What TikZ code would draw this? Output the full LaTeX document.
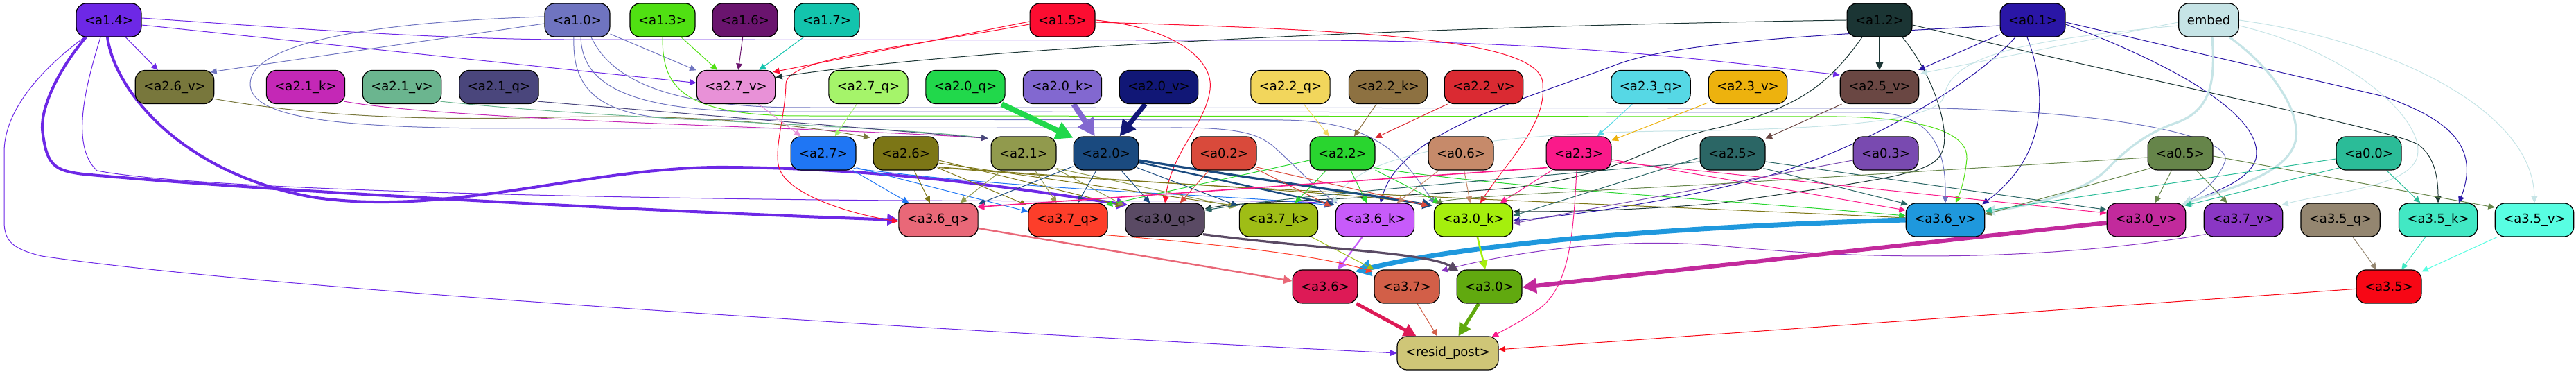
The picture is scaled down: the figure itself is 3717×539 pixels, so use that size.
\documentclass[tikz,border=0pt]{standalone}
\usepackage{fontspec}
\setmainfont{DejaVu Sans}
\usetikzlibrary{arrows.meta,calc}
\pgfdeclarelayer{bg}
\pgfsetlayers{bg,main}
\definecolor{c14}{HTML}{6D28E6}
\definecolor{c10}{HTML}{6F74C0}
\definecolor{c13}{HTML}{50E012}
\definecolor{c16}{HTML}{6A146E}
\definecolor{c17}{HTML}{13C4AD}
\definecolor{c15}{HTML}{FC0D31}
\definecolor{c12}{HTML}{1B3534}
\definecolor{c01}{HTML}{2A16A6}
\definecolor{cemb}{HTML}{C6E4E6}
\definecolor{c26v}{HTML}{78773C}
\definecolor{c21k}{HTML}{C428B6}
\definecolor{c21v}{HTML}{6BB58F}
\definecolor{c21q}{HTML}{4A467C}
\definecolor{c27v}{HTML}{E891D7}
\definecolor{c27q}{HTML}{A5F46A}
\definecolor{c20q}{HTML}{21D84B}
\definecolor{c20k}{HTML}{8268D0}
\definecolor{c20v}{HTML}{111776}
\definecolor{c22q}{HTML}{F2D65C}
\definecolor{c22k}{HTML}{8D7141}
\definecolor{c22v}{HTML}{DA2A32}
\definecolor{c23q}{HTML}{56D8E5}
\definecolor{c23v}{HTML}{EDB20E}
\definecolor{c25v}{HTML}{6A4743}
\definecolor{c27}{HTML}{1F76F4}
\definecolor{c26}{HTML}{7C7616}
\definecolor{c21}{HTML}{919A4D}
\definecolor{c20}{HTML}{1A4A7F}
\definecolor{c02}{HTML}{D94A3B}
\definecolor{c22}{HTML}{29D52F}
\definecolor{c06}{HTML}{C68A6A}
\definecolor{c23}{HTML}{FA1A8A}
\definecolor{c25}{HTML}{2B6665}
\definecolor{c03}{HTML}{794AB0}
\definecolor{c05}{HTML}{66854A}
\definecolor{c00}{HTML}{2BBC98}
\definecolor{c36q}{HTML}{E96878}
\definecolor{c37q}{HTML}{FD3E2A}
\definecolor{c30q}{HTML}{5A4A64}
\definecolor{c37k}{HTML}{9FBD16}
\definecolor{c36k}{HTML}{C75BFA}
\definecolor{c30k}{HTML}{A5EF0D}
\definecolor{c36v}{HTML}{1F98DD}
\definecolor{c30v}{HTML}{C22A9C}
\definecolor{c37v}{HTML}{8A37C4}
\definecolor{c35q}{HTML}{948670}
\definecolor{c35k}{HTML}{42E8C4}
\definecolor{c35v}{HTML}{58FEE2}
\definecolor{c36}{HTML}{DD1A56}
\definecolor{c37}{HTML}{D25F48}
\definecolor{c30}{HTML}{61A90F}
\definecolor{c35}{HTML}{F70715}
\definecolor{cres}{HTML}{CFC677}
\tikzset{
  nd/.style={draw=black, line width=0.6pt, rounded corners=7pt, minimum height=24pt,
    inner xsep=6pt, inner ysep=0pt, text=black, font=\fontsize{9}{10}\selectfont},
  ed/.style={line width=0.5pt, -{Triangle[length=3.6pt 2.2,width=3.2pt 2.4]}},
}
\begin{document}
\begin{tikzpicture}[x=0.5pt,y=0.5pt]
\useasboundingbox (0,0) rectangle (3717,539);
% row 1
\node[nd,fill=c14] (a14) at (157,510) {<a1.4>};
\node[nd,fill=c10] (a10) at (833,510) {<a1.0>};
\node[nd,fill=c13] (a13) at (956,510) {<a1.3>};
\node[nd,fill=c16] (a16) at (1075,510) {<a1.6>};
\node[nd,fill=c17] (a17) at (1193,510) {<a1.7>};
\node[nd,fill=c15] (a15) at (1533,510) {<a1.5>};
\node[nd,fill=c12] (a12) at (2712,510) {<a1.2>};
\node[nd,fill=c01] (a01) at (2933,510) {<a0.1>};
\node[nd,fill=cemb] (embed) at (3187,510) {embed};
% row 2
\node[nd,fill=c26v] (a26v) at (252,413.5) {<a2.6\_v>};
\node[nd,fill=c21k] (a21k) at (441,413.5) {<a2.1\_k>};
\node[nd,fill=c21v] (a21v) at (580,413.5) {<a2.1\_v>};
\node[nd,fill=c21q] (a21q) at (720,413.5) {<a2.1\_q>};
\node[nd,fill=c27v] (a27v) at (1062,413.5) {<a2.7\_v>};
\node[nd,fill=c27q] (a27q) at (1253,413.5) {<a2.7\_q>};
\node[nd,fill=c20q] (a20q) at (1393,413.5) {<a2.0\_q>};
\node[nd,fill=c20k] (a20k) at (1533,413.5) {<a2.0\_k>};
\node[nd,fill=c20v] (a20v) at (1672,413.5) {<a2.0\_v>};
\node[nd,fill=c22q] (a22q) at (1862,413.5) {<a2.2\_q>};
\node[nd,fill=c22k] (a22k) at (2003,413.5) {<a2.2\_k>};
\node[nd,fill=c22v] (a22v) at (2141,413.5) {<a2.2\_v>};
\node[nd,fill=c23q] (a23q) at (2382,413.5) {<a2.3\_q>};
\node[nd,fill=c23v] (a23v) at (2522,413.5) {<a2.3\_v>};
\node[nd,fill=c25v] (a25v) at (2712,413.5) {<a2.5\_v>};
% row 3
\node[nd,fill=c27] (a27) at (1188,318) {<a2.7>};
\node[nd,fill=c26] (a26) at (1307,318) {<a2.6>};
\node[nd,fill=c21] (a21) at (1477,318) {<a2.1>};
\node[nd,fill=c20] (a20) at (1596,318) {<a2.0>};
\node[nd,fill=c02] (a02) at (1766,318) {<a0.2>};
\node[nd,fill=c22] (a22) at (1937,318) {<a2.2>};
\node[nd,fill=c06] (a06) at (2108,318) {<a0.6>};
\node[nd,fill=c23] (a23) at (2278,318) {<a2.3>};
\node[nd,fill=c25] (a25) at (2500,318) {<a2.5>};
\node[nd,fill=c03] (a03) at (2721,318) {<a0.3>};
\node[nd,fill=c05] (a05) at (3146,318) {<a0.5>};
\node[nd,fill=c00] (a00) at (3418,318) {<a0.0>};
% row 4
\node[nd,fill=c36q] (a36q) at (1354,222) {<a3.6\_q>};
\node[nd,fill=c37q] (a37q) at (1541,222) {<a3.7\_q>};
\node[nd,fill=c30q] (a30q) at (1681,222) {<a3.0\_q>};
\node[nd,fill=c37k] (a37k) at (1845,222) {<a3.7\_k>};
\node[nd,fill=c36k] (a36k) at (1984,222) {<a3.6\_k>};
\node[nd,fill=c30k] (a30k) at (2126,222) {<a3.0\_k>};
\node[nd,fill=c36v] (a36v) at (2807,222) {<a3.6\_v>};
\node[nd,fill=c30v] (a30v) at (3097,222) {<a3.0\_v>};
\node[nd,fill=c37v] (a37v) at (3237,222) {<a3.7\_v>};
\node[nd,fill=c35q] (a35q) at (3377,222) {<a3.5\_q>};
\node[nd,fill=c35k] (a35k) at (3518,222) {<a3.5\_k>};
\node[nd,fill=c35v] (a35v) at (3657,222) {<a3.5\_v>};
% row 5
\node[nd,fill=c36] (a36) at (1912,126) {<a3.6>};
\node[nd,fill=c37] (a37) at (2030,126) {<a3.7>};
\node[nd,fill=c30] (a30) at (2149,126) {<a3.0>};
\node[nd,fill=c35] (a35) at (3447,126) {<a3.5>};
% row 6
\node[nd,fill=cres] (resid) at (2089,30) {<resid\_post>};

\begin{pgfonlayer}{bg}
% ---- from a1.4
\draw[ed,draw=c14] (a14) -- (a26v);
\draw[ed,draw=c14] ($(a14.east)+(0,-7)$) -- ($(a27v.west)+(0,6)$);
\draw[ed,draw=c14] ($(a14.east)+(0,3)$) .. controls (400,500) and (600,484) .. (800,482) -- (1900,481) .. controls (2300,479) and (2520,445) .. ($(a25v.north west)+(0,-7)$);
\draw[ed,draw=c14,line width=2pt] ($(a14.south)+(-33,0)$) .. controls (85,440) and (55,380) .. (62,345) .. controls (68,300) and (80,293) .. (120,288) .. controls (400,262) and (1000,232) .. (a36q.west);
\draw[ed,draw=c14,line width=2pt] ($(a14.south)+(-2,0)$) .. controls (165,410) and (260,290) .. (450,255) .. controls (650,225) and (850,300) .. (1050,298) .. controls (1300,296) and (1500,262) .. ($(a30q.north west)+(4,-3)$);
\draw[ed,draw=c14] ($(a14.south)+(-12,0)$) .. controls (125,420) and (100,330) .. (140,293) .. controls (300,262) and (1000,252) .. (1300,250) .. controls (1700,248) and (1880,252) .. ($(a36k.north west)+(-2,-3)$);
\draw[ed,draw=c14] ($(a14.south)+(-35,0)$) .. controls (60,440) and (6,380) .. (6,320) -- (6,220) .. controls (6,190) and (20,180) .. (60,170) .. controls (400,120) and (1400,60) .. (resid.west);
% ---- from a1.0
\draw[ed,draw=c10] (a10) -- (a27v);
\draw[ed,draw=c10] ($(a10.west)+(0,-5)$) -- ($(a26v.north east)+(-6,-3)$);
\draw[ed,draw=c10] ($(a10.west)+(0,5)$) .. controls (500,506) and (361,470) .. (361,418) .. controls (361,370) and (480,356) .. (700,354) -- (1700,355) .. controls (1790,355) and (1815,345) .. (1835,330) .. controls (1870,300) and (1895,270) .. ($(a36k.north west)+(3,-1)$);
\draw[ed,draw=c10] ($(a10.south)+(-5,0)$) .. controls (826,420) and (850,368) .. (1000,367) -- (1850,366) .. controls (2000,365) and (2030,300) .. ($(a30k.north west)+(2,-1)$);
\draw[ed,draw=c10] ($(a10.south)+(5,0)$) .. controls (840,420) and (900,379) .. (1100,378) -- (2700,377) .. controls (2785,376) and (2808,330) .. (a36v.north);
\draw[ed,draw=c10] ($(a10.south)+(20,0)$) .. controls (880,430) and (950,385) .. (1150,384) -- (2800,383) .. controls (3100,375) and (3225,335) .. (3210,305) .. controls (3200,280) and (3180,262) .. ($(a30v.north east)+(-3,-1)$);
% ---- a1.3, a1.6, a1.7
\draw[ed,draw=c13] (a13) -- (a27v);
\draw[ed,draw=c13] (a13.south) .. controls (956,420) and (975,373) .. (1150,372) -- (2650,371) .. controls (2800,369) and (2840,340) .. (2838,310) .. controls (2836,290) and (2832,270) .. ($(a36v.north)+(15,0)$);
\draw[ed,draw=c16] (a16) -- (a27v);
\draw[ed,draw=c17] (a17) -- (a27v);
% ---- a1.5
\draw[ed,draw=c15] ($(a15.west)+(0,-2)$) -- ($(a27v.north east)+(-4,-3)$);
\draw[ed,draw=c15] ($(a15.west)+(0,-6)$) .. controls (1300,470) and (1135,455) .. (1134,418) .. controls (1133,370) and (1115,320) .. (1125,295) .. controls (1140,255) and (1240,228) .. ($(a36q.west)+(0,-2)$);
\draw[ed,draw=c15] (a15.east) .. controls (1690,500) and (1752,455) .. (1746,410) .. controls (1740,360) and (1690,320) .. (a30q.north);
\draw[ed,draw=c15] ($(a15.east)+(0,-3)$) .. controls (2000,495) and (2232,480) .. (2226,415) .. controls (2232,360) and (2170,300) .. ($(a30k.north)+(10,0)$);
% ---- a1.2
\draw[ed,draw=c12] (a12.west) .. controls (2000,500) and (1400,470) .. ($(a27v.east)+(0,14)$);
\draw[ed,draw=c12,line width=0.8pt] (a12) -- (a25v);
\draw[ed,draw=c12] ($(a12.east)+(0,-7)$) .. controls (3200,400) and (3460,350) .. (3490,330) .. controls (3510,315) and (3518,290) .. (a35k.north);
\draw[ed,draw=c12] ($(a12.south)+(33,0)$) .. controls (2790,430) and (2810,360) .. (2805,330) .. controls (2798,290) and (2760,286) .. (2480,246) .. controls (2350,235) and (2250,234) .. ($(a30k.east)+(0,12)$);
\draw[ed,draw=c12] ($(a12.south)+(-25,0)$) .. controls (2640,420) and (2600,385) .. (2480,355) .. controls (2380,335) and (2360,290) .. (2180,268) .. controls (1950,250) and (1800,250) .. ($(a30q.east)+(0,16)$);
% ---- a0.1
\draw[ed,draw=c01] (a01) -- (a25v);
\draw[ed,draw=c01] ($(a01.west)+(0,-8)$) .. controls (2650,490) and (2420,480) .. (2330,445) .. controls (2200,395) and (2020,350) .. ($(a36k.north)+(8,0)$);
\draw[ed,draw=c01] ($(a01.south)+(-25,0)$) .. controls (2850,420) and (2700,330) .. (2550,285) .. controls (2400,245) and (2260,228) .. ($(a30k.east)+(0,-1)$);
\draw[ed,draw=c01] ($(a01.south)+(-8,0)$) .. controls (2950,420) and (2962,320) .. ($(a36v.north east)+(-4,-2)$);
\draw[ed,draw=c01] ($(a01.east)+(0,-6)$) .. controls (3100,460) and (3270,380) .. (3255,310) .. controls (3245,278) and (3195,262) .. ($(a30v.north east)+(-4,-2)$);
\draw[ed,draw=c01] ($(a01.east)+(0,-3)$) -- (3440,400) .. controls (3530,368) and (3580,330) .. ($(a35k.north)+(30,0)$);
% ---- embed
\draw[ed,draw=cemb] ($(embed.west)+(0,-3)$) -- ($(a25v.north east)+(2,-5)$);
\draw[ed,draw=cemb] ($(embed.west)+(0,-8)$) .. controls (2900,480) and (2815,455) .. (2805,400) .. controls (2795,360) and (2600,352) .. (2400,350) .. controls (2150,346) and (1960,320) .. ($(a36k.north west)+(-4,-2)$);
\draw[ed,draw=cemb,line width=1.6pt] ($(embed.south)+(5,0)$) .. controls (3197,420) and (3190,380) .. (3140,362) .. controls (3090,345) and (3060,315) .. (3040,295) .. controls (3010,262) and (2920,240) .. ($(a36v.east)+(0,12)$);
\draw[ed,draw=cemb,line width=1.6pt] ($(embed.south)+(30,0)$) .. controls (3280,440) and (3318,380) .. (3313,340) .. controls (3306,290) and (3220,268) .. ($(a30v.north east)+(-6,-2)$);
\draw[ed,draw=cemb] ($(embed.east)+(0,-8)$) .. controls (3400,462) and (3505,360) .. (3487,310) .. controls (3470,268) and (3360,262) .. ($(a37v.north east)+(-2,-3)$);
\draw[ed,draw=cemb] (embed.east) .. controls (3450,480) and (3655,380) .. (a35v.north);
% ---- row 2 -> row 3
\draw[ed,draw=c26v] ($(a26v.east)+(0,-17)$) .. controls (450,372) and (600,365) .. (800,370) .. controls (1000,375) and (1150,360) .. ($(a26.north west)+(-4,-2)$);
\draw[ed,draw=c21k] ($(a21k.south east)+(-2,4)$) .. controls (650,365) and (1200,355) .. ($(a21.north west)+(-4,-3)$);
\draw[ed,draw=c21v] ($(a21v.south east)+(-2,4)$) .. controls (900,365) and (1250,360) .. ($(a21.north west)+(-4,-3)$);
\draw[ed,draw=c21q] ($(a21q.south east)+(-2,4)$) -- ($(a21.north west)+(-4,-3)$);
\draw[ed,draw=c27v] (a27v) -- (a27);
\draw[ed,draw=c27q] (a27q) -- (a27);
\draw[ed,draw=c20q,line width=4pt] (a20q) -- (a20);
\draw[ed,draw=c20k,line width=4pt] (a20k) -- (a20);
\draw[ed,draw=c20v,line width=3.5pt] (a20v) -- (a20);
\draw[ed,draw=c22q] (a22q) -- (a22);
\draw[ed,draw=c22k] (a22k) -- (a22);
\draw[ed,draw=c22v] (a22v) -- (a22);
\draw[ed,draw=c23q] (a23q) -- (a23);
\draw[ed,draw=c23v] (a23v) -- (a23);
\draw[ed,draw=c25v] (a25v) -- (a25);
% ---- row 3 -> row 4
\draw[ed,draw=c27] (a27) -- (a36q);
\draw[ed,draw=c27] ($(a27.south east)+(0,4)$) -- ($(a37q.west)+(0,12)$);
\draw[ed,draw=c27] ($(a27.south east)+(-4,3)$) .. controls (1500,262) and (1800,258) .. ($(a36k.north west)+(-6,-4)$);
\draw[ed,draw=c26] (a26) -- (a36q);
\draw[ed,draw=c26] ($(a26.south east)+(-2,4)$) -- ($(a37q.north west)+(-2,-3)$);
\draw[ed,draw=c26] ($(a26.east)+(0,-10)$) -- ($(a30q.north west)+(-4,-4)$);
\draw[ed,draw=c26] ($(a26.east)+(0,-14)$) -- ($(a37k.north west)+(-6,-4)$);
\draw[ed,draw=c26] ($(a26.south east)+(-1,5)$) .. controls (1700,272) and (1950,262) .. ($(a30k.north west)+(-6,-3)$);
\draw[ed,draw=c26] ($(a26.south east)+(0,4)$) .. controls (1800,262) and (2400,242) .. ($(a36v.west)+(0,3)$);
\draw[ed,draw=c21] (a21) -- (a36q);
\draw[ed,draw=c21] (a21) -- (a37q);
\draw[ed,draw=c21] ($(a21.south east)+(-2,3)$) -- ($(a30q.north west)+(-1,-4)$);
\draw[ed,draw=c21] ($(a21.south east)+(0,3)$) -- ($(a37k.north west)+(-4,-6)$);
\draw[ed,draw=c20] (a20) -- (a36q);
\draw[ed,draw=c20] (a20) -- (a37q);
\draw[ed,draw=c20] (a20) -- (a30q);
\draw[ed,draw=c20] ($(a20.south east)+(-3,4)$) -- ($(a37k.north west)+(-2,-4)$);
\draw[ed,draw=c20,line width=1.2pt] ($(a20.east)+(0,-13)$) -- ($(a36k.north west)+(-1,-3)$);
\draw[ed,draw=c20,line width=1.6pt] ($(a20.east)+(0,-10)$) .. controls (1850,275) and (1980,258) .. ($(a30k.north west)+(-2,-4)$);
\draw[ed,draw=c02] (a02) -- (a30q);
\draw[ed,draw=c02] ($(a02.south east)+(-3,3)$) -- ($(a36k.north west)+(-6,-5)$);
\draw[ed,draw=c02] ($(a02.south east)+(-2,5)$) -- ($(a30k.north west)+(-8,-4)$);
\draw[ed,draw=c22] (a22) -- (a37k);
\draw[ed,draw=c22] (a22) -- (a36k);
\draw[ed,draw=c22] (a22) -- (a30k);
\draw[ed,draw=c22] ($(a22.west)+(0,-10)$) -- ($(a37q.north east)+(-3,-3)$);
\draw[ed,draw=c22] ($(a22.south east)+(-2,4)$) .. controls (2150,270) and (2500,250) .. ($(a36v.west)+(0,6)$);
\draw[ed,draw=c06] (a06) -- (a36k);
\draw[ed,draw=c06] (a06) -- (a30k);
\draw[ed,draw=c23,line width=0.8pt] ($(a23.south west)+(2,4)$) -- ($(a36q.north east)+(-2,-6)$);
\draw[ed,draw=c23] (a23) -- (a30k);
\draw[ed,draw=c23] ($(a23.east)+(0,-9)$) -- ($(a36v.west)+(0,14)$);
\draw[ed,draw=c23] ($(a23.east)+(0,-12)$) -- ($(a30v.west)+(0,10)$);
\draw[ed,draw=c23] ($(a23.south)+(-3,0)$) .. controls (2270,200) and (2265,120) .. (2215,90) .. controls (2195,76) and (2175,66) .. ($(resid.north east)+(-10,-1)$);
\draw[ed,draw=c25] ($(a25.south east)+(-3,3)$) -- ($(a36v.north west)+(3,-2)$);
\draw[ed,draw=c25] ($(a25.east)+(0,-12)$) -- ($(a30v.north west)+(0,-10)$);
\draw[ed,draw=c25] ($(a25.west)+(0,-6)$) -- ($(a30k.east)+(0,6)$);
\draw[ed,draw=c25] ($(a25.west)+(0,-12)$) .. controls (2200,282) and (1900,262) .. ($(a30q.east)+(0,14)$);
\draw[ed,draw=c03] ($(a03.west)+(0,-10)$) -- ($(a30k.east)+(0,-5)$);
\draw[ed,draw=c05] (a05) -- (a30v);
\draw[ed,draw=c05] (a05) -- (a37v);
\draw[ed,draw=c05] ($(a05.east)+(0,-4)$) -- ($(a35v.west)+(0,18)$);
\draw[ed,draw=c05] ($(a05.south west)+(4,3)$) -- ($(a36v.east)+(0,8)$);
\draw[ed,draw=c05] ($(a05.west)+(0,-6)$) -- (2480,274) .. controls (2260,262) and (2100,255) .. ($(a30k.north west)+(2,-1)$);
\draw[ed,draw=c00] (a00) -- (a35k);
\draw[ed,draw=c00] ($(a00.west)+(0,-8)$) -- ($(a36v.east)+(0,13)$);
\draw[ed,draw=c00] ($(a00.south west)+(6,4)$) -- ($(a30v.north east)+(-2,-4)$);
% ---- row 4 -> row 5
\draw[ed,draw=c36q,line width=1.2pt] ($(a36q.east)+(0,-12)$) -- ($(a36.west)+(0,8)$);
\draw[ed,draw=c36k,line width=1.1pt] (a36k) -- (a36);
\draw[ed,draw=c36v,line width=3.5pt] (a36v.west) .. controls (2500,215) and (2150,195) .. ($(a36.north east)+(-4,-3)$);
\draw[ed,draw=c37q] ($(a37q.south east)+(-4,3)$) .. controls (1750,188) and (1900,172) .. ($(a37.north west)+(-2,-3)$);
\draw[ed,draw=c37k] (a37k) -- (a37);
\draw[ed,draw=c37v] ($(a37v.south west)+(3,4)$) .. controls (3000,170) and (2750,158) .. (2480,185) .. controls (2300,200) and (2140,165) .. ($(a37.north east)+(2,-2)$);
\draw[ed,draw=c30q,line width=1.6pt] ($(a30q.south east)+(-3,4)$) .. controls (1900,180) and (2060,175) .. ($(a30.north west)+(3,-2)$);
\draw[ed,draw=c30k,line width=1.3pt] (a30k) -- (a30);
\draw[ed,draw=c30v,line width=3pt] ($(a30v.west)+(0,-4)$) -- ($(a30.east)+(0,-1)$);
\draw[ed,draw=c35q] (a35q) -- (a35);
\draw[ed,draw=c35k] (a35k) -- (a35);
\draw[ed,draw=c35v] (a35v) -- (a35);
% ---- row 5 -> resid
\draw[ed,draw=c36,line width=2.5pt] (a36) -- (resid);
\draw[ed,draw=c37] (a37) -- (resid);
\draw[ed,draw=c30,line width=2.5pt] (a30) -- (resid);
\draw[ed,draw=c35] (a35) -- (resid);
\end{pgfonlayer}
\end{tikzpicture}
\end{document}
